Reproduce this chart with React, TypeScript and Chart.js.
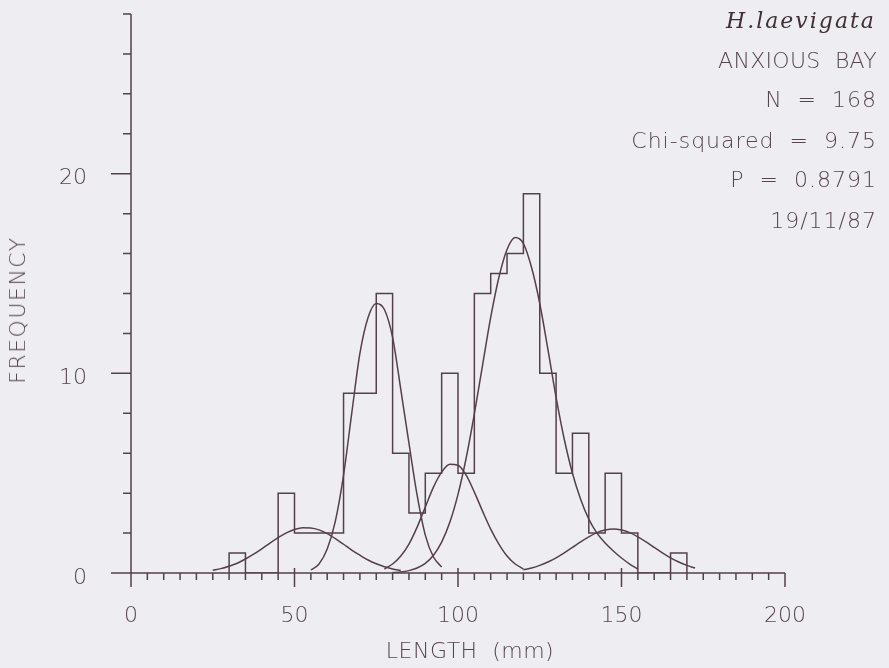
import React, { useEffect, useRef } from "react";
import { Chart, registerables } from "chart.js";

Chart.register(...registerables);

// ---- data ----
const binStarts = [30, 35, 40, 45, 50, 55, 60, 65, 70, 75, 80, 85, 90, 95, 100, 105, 110, 115, 120, 125, 130, 135, 140, 145, 150, 155, 160, 165];
const binCounts = [1, 0, 0, 4, 2, 2, 2, 9, 9, 14, 6, 3, 5, 10, 5, 14, 15, 16, 19, 10, 5, 7, 2, 5, 2, 0, 0, 1];
const binWidth = 5;

const curveAx = [25, 27.5, 30, 32.5, 35, 37.5, 40, 42.5, 45, 47.5, 50, 52.5, 55, 57.5, 60, 62.5, 65, 67.5, 70, 72.5, 75, 77.5, 80, 82.5];
const curveAy = [0.14, 0.22, 0.34, 0.49, 0.7, 0.94, 1.21, 1.5, 1.77, 2.01, 2.18, 2.27, 2.26, 2.16, 1.97, 1.72, 1.44, 1.15, 0.89, 0.65, 0.46, 0.31, 0.2, 0.12];

const curveBx = [55, 57.5, 60, 62.5, 65, 67.5, 70, 72.5, 75, 77.5, 80, 82.5, 85, 87.5, 90, 92.5, 95];
const curveBy = [0.15, 0.45, 1.2, 2.6, 4.9, 8.0, 11.0, 12.8, 13.5, 13.2, 11.8, 9.2, 6.5, 3.9, 1.9, 0.8, 0.3];

const curveCx = [77.5, 80, 82.5, 85, 87.5, 90, 92.5, 95, 97.5, 100, 102.5, 105, 107.5, 110, 112.5, 115, 117.5, 120];
const curveCy = [0.2, 0.45, 0.85, 1.45, 2.3, 3.3, 4.3, 5.05, 5.45, 5.4, 4.9, 4.05, 3.1, 2.2, 1.45, 0.85, 0.45, 0.2];

const curveDx = [80, 82.5, 85, 87.5, 90, 92.5, 95, 97.5, 100, 102.5, 105, 107.5, 110, 112.5, 115, 117.5, 120, 122.5, 125, 127.5, 130, 132.5, 135, 137.5, 140, 142.5, 145, 147.5, 150, 152.5, 155];
const curveDy = [0.02, 0.05, 0.12, 0.25, 0.48, 0.89, 1.55, 2.54, 3.94, 5.76, 7.97, 10.4, 12.8, 14.8, 16.2, 16.8, 16.5, 15.3, 13.5, 11.2, 8.8, 6.7, 5.0, 3.7, 2.7, 2.0, 1.5, 1.1, 0.75, 0.45, 0.2];

const curveEx = [120, 122.5, 125, 127.5, 130, 132.5, 135, 137.5, 140, 142.5, 145, 147.5, 150, 152.5, 155, 157.5, 160, 162.5, 165, 167.5, 170, 172.5];
const curveEy = [0.16, 0.25, 0.38, 0.55, 0.76, 1.01, 1.28, 1.56, 1.81, 2.02, 2.15, 2.2, 2.15, 2.02, 1.81, 1.56, 1.28, 1.01, 0.76, 0.55, 0.38, 0.25];

const xMin = 0;
const xMax = 200;
const xMajorStep = 50;
const xMinorStep = 5;
const yMin = 0;
const yMax = 28;
const yMajorStep = 10;
const yMinorStep = 2;

const infoLines = ["ANXIOUS BAY", "N = 168", "Chi-squared = 9.75", "P = 0.8791", "19/11/87"];
const speciesName = "H.laevigata";
const xTitle = "LENGTH (mm)";
const yTitle = "FREQUENCY";

// ---- styles ----
const LINE = "#54404a";
const TEXT = "#55464c";
const BG = "#eeeef2";
const SANS = "'DejaVu Sans', 'Liberation Sans', sans-serif";

const axisPlugin = {
  id: "plotterAxes",
  afterDraw(chart: any) {
    const { ctx } = chart;
    const xs = chart.scales.x;
    const ys = chart.scales.y;
    const x0 = xs.getPixelForValue(xMin);
    const y0 = ys.getPixelForValue(yMin);
    ctx.save();
    ctx.strokeStyle = LINE;
    ctx.lineWidth = 1.5;
    ctx.lineCap = "butt";
    ctx.beginPath();
    ctx.moveTo(x0, ys.getPixelForValue(yMax));
    ctx.lineTo(x0, y0 + 14);
    ctx.moveTo(x0 - 20, y0);
    ctx.lineTo(xs.getPixelForValue(xMax), y0);
    for (let v = yMin + yMinorStep; v <= yMax; v += yMinorStep) {
      const p = ys.getPixelForValue(v);
      const len = v % yMajorStep === 0 ? 20 : 8;
      ctx.moveTo(x0 - len, p);
      ctx.lineTo(x0, p);
    }
    for (let v = xMin + xMinorStep; v <= xMax; v += xMinorStep) {
      const p = xs.getPixelForValue(v);
      if (v === xMax) {
        ctx.moveTo(p, y0);
        ctx.lineTo(p, y0 + 14);
      } else if (v % xMajorStep === 0) {
        ctx.moveTo(p, y0 - 5);
        ctx.lineTo(p, y0 + 14);
      } else {
        ctx.moveTo(p, y0);
        ctx.lineTo(p, y0 + 7);
      }
    }
    ctx.stroke();
    ctx.restore();
  },
};

function pts(xs: number[], ys: number[]) {
  return xs.map((x, i) => ({ x, y: ys[i] }));
}

export default function App() {
  const canvasRef = useRef<HTMLCanvasElement>(null);

  useEffect(() => {
    const canvas = canvasRef.current;
    if (!canvas) return;
    const histData = [
      { x: binStarts[0], y: 0 },
      ...binStarts.map((s, i) => ({ x: s, y: binCounts[i] })),
      { x: binStarts[binStarts.length - 1] + binWidth, y: 0 },
    ];
    const curves = [
      pts(curveAx, curveAy),
      pts(curveBx, curveBy),
      pts(curveCx, curveCy),
      pts(curveDx, curveDy),
      pts(curveEx, curveEy),
    ];
    const tickFont = { family: SANS, size: 22, weight: 300 as any };
    const chart = new Chart(canvas, {
      type: "line",
      data: {
        datasets: [
          {
            label: "Frequency",
            data: histData,
            stepped: true,
            borderColor: LINE,
            borderWidth: 1.5,
            pointRadius: 0,
            fill: false,
          },
          ...curves.map((c, i) => ({
            label: "Component " + (i + 1),
            data: c,
            borderColor: LINE,
            borderWidth: 1.5,
            pointRadius: 0,
            fill: false,
            cubicInterpolationMode: "monotone" as const,
          })),
        ],
      },
      options: {
        responsive: false,
        animation: false,
        devicePixelRatio: 1,
        layout: { padding: { left: 0, top: 14, right: 104, bottom: 0 } },
        plugins: {
          legend: { display: false },
          tooltip: { enabled: false },
          title: { display: false },
        },
        scales: {
          x: {
            type: "linear",
            min: xMin,
            max: xMax,
            afterFit: (s: any) => {
              s.height = 95;
              s.paddingLeft = 0;
              s.paddingRight = 0;
            },
            grid: { display: false, drawTicks: false },
            border: { display: false },
            ticks: {
              stepSize: xMajorStep,
              padding: 30,
              color: TEXT,
              font: tickFont,
              maxRotation: 0,
              autoSkip: false,
            },
          },
          y: {
            type: "linear",
            min: yMin,
            max: yMax,
            afterFit: (s: any) => {
              s.width = 131;
              s.paddingTop = 0;
              s.paddingBottom = 0;
            },
            grid: { display: false, drawTicks: false },
            border: { display: false },
            ticks: {
              stepSize: yMajorStep,
              includeBounds: false,
              padding: 44,
              labelOffset: 5,
              color: TEXT,
              font: tickFont,
            },
          },
        },
      },
      plugins: [axisPlugin],
    });
    return () => chart.destroy();
  }, []);

  const lineTops = [49, 88, 129, 168, 209];
  const lineSpacing = ["0.3px", "1px", "1px", "1px", "1px"];

  return (
    <div
      style={{
        position: "fixed",
        left: 0,
        top: 0,
        width: 889,
        height: 668,
        background: BG,
        overflow: "hidden",
      }}
    >
      <canvas ref={canvasRef} width={889} height={668} style={{ position: "absolute", left: 0, top: 0 }} />
      <div
        style={{
          position: "absolute",
          right: 13,
          top: 9,
          fontFamily: "'DejaVu Serif', 'Liberation Serif', serif",
          fontStyle: "italic",
          fontSize: 22,
          lineHeight: "24px",
          color: "#3f3035",
          whiteSpace: "nowrap",
          letterSpacing: "2px",
        }}
      >
        {speciesName}
      </div>
      {infoLines.map((t, i) => (
        <div
          key={i}
          style={{
            position: "absolute",
            right: 12,
            top: lineTops[i],
            fontFamily: SANS,
            fontWeight: 300,
            fontSize: 22,
            lineHeight: "24px",
            color: TEXT,
            whiteSpace: "nowrap",
            letterSpacing: lineSpacing[i],
            wordSpacing: "7px",
          }}
        >
          {t}
        </div>
      ))}
      <div
        style={{
          position: "absolute",
          left: 18,
          top: 310,
          transform: "translate(-50%, -50%) rotate(-90deg)",
          fontFamily: SANS,
          fontWeight: 300,
          fontSize: 22,
          lineHeight: "24px",
          color: TEXT,
          whiteSpace: "nowrap",
          letterSpacing: "1.5px",
        }}
      >
        {yTitle}
      </div>
      <div
        style={{
          position: "absolute",
          left: 470,
          top: 651,
          transform: "translate(-50%, -50%)",
          fontFamily: SANS,
          fontWeight: 300,
          fontSize: 22,
          lineHeight: "24px",
          color: TEXT,
          whiteSpace: "nowrap",
          letterSpacing: "0.5px",
          wordSpacing: "7px",
        }}
      >
        {xTitle}
      </div>
    </div>
  );
}
